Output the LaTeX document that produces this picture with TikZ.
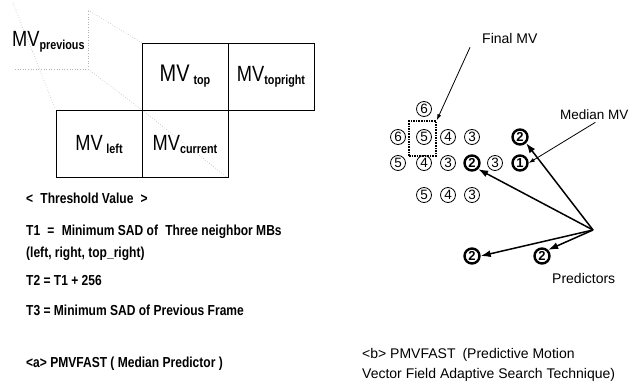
\documentclass[tikz,border=0pt]{standalone}
\usepackage{fontspec}
\setmainfont{Liberation Sans}
\newfontfamily\narrowf[FakeStretch=0.83]{Liberation Sans}
\usetikzlibrary{arrows.meta}
\tikzset{
  mbbox/.style={draw, line width=0.9pt, minimum width=86pt, minimum height=67pt, inner sep=0pt, anchor=center},
  guide/.style={gray!60, dotted, line width=0.6pt},
  cnum/.style={circle, draw, line width=0.8pt, minimum size=15pt, inner sep=0pt, font=\fontsize{13.5}{13.5}\selectfont},
  bnum/.style={circle, draw, line width=2.4pt, minimum size=15pt, inner sep=0pt, font=\bfseries\fontsize{13}{13}\selectfont},
  ptr/.style={line width=1.5pt, -{Latex[length=10pt,width=7pt]}},
  thin ptr/.style={line width=0.8pt, -{Latex[length=6pt,width=4pt]}},
  lefttxt/.style={anchor=base west, inner sep=0pt, font=\narrowf\bfseries\fontsize{14.5}{16}\selectfont},
  righttxt/.style={anchor=base west, inner sep=0pt, font=\fontsize{14}{16}\selectfont},
}
\newcommand{\subtx}[1]{\raisebox{-3pt}{\narrowf\bfseries\fontsize{13}{13}\selectfont #1}}
\begin{document}
\begin{tikzpicture}[x=1pt,y=-1pt]
\useasboundingbox (0,0) rectangle (639,385);
% perspective guides
\draw[guide] (15,69) -- (88,69) -- (88,10);
\draw[guide] (88,69) -- (142,110);
\draw[guide] (88,10) -- (142,43);
\draw[guide] (13,3) -- (55,108);
\draw[guide] (142,110) -- (228,178);
% macroblocks
\node[mbbox] (top) at (185,76.5) {\fontsize{24}{24}\selectfont\narrowf MV\,\subtx{top}};
\node[mbbox] (topright) at (271,76.5) {\fontsize{22}{22}\selectfont\narrowf MV\subtx{topright}};
\node[mbbox] (left) at (99,144) {\fontsize{22}{22}\selectfont\narrowf MV\,\subtx{left}};
\node[mbbox] (current) at (185,144) {\fontsize{22}{22}\selectfont\narrowf MV\subtx{current}};
\node[anchor=base west, inner sep=0pt] (prev) at (12,47) {\fontsize{22}{22}\selectfont\narrowf MV\subtx{previous}};
% left texts
\node[lefttxt] (th) at (26,203) {<\enspace Threshold Value\enspace >};
\node[lefttxt] (t1) at (26,235) {T1\enspace =\enspace Minimum SAD of\enspace Three neighbor MBs};
\node[lefttxt] (t1b) at (26,257) {(left, right, top\_right)};
\node[lefttxt] (t2) at (26,285) {T2 = T1 + 256};
\node[lefttxt] (t3) at (26,315) {T3 = Minimum SAD of Previous Frame};
\node[lefttxt] (capa) at (26,367) {<a> PMVFAST ( Median Predictor )};
% search pattern
\node[cnum] (r0a) at (424,109) {6};
\node[cnum] (r1a) at (398,137) {6};
\node[cnum] (r1b) at (424,137) {5};
\node[cnum] (r1c) at (448,137) {4};
\node[cnum] (r1d) at (472,137) {3};
\node[bnum] (r1e) at (520,137) {2};
\node[cnum] (r2a) at (398,163) {5};
\node[cnum] (r2b) at (424,163) {4};
\node[cnum] (r2c) at (448,163) {3};
\node[bnum] (r2d) at (472,163) {2};
\node[cnum] (r2e) at (495,163) {3};
\node[bnum] (r2f) at (520,163) {1};
\node[cnum] (r3a) at (424,195) {5};
\node[cnum] (r3b) at (448,195) {4};
\node[cnum] (r3c) at (472,195) {3};
\node[bnum] (p1) at (472,256) {2};
\node[bnum] (p2) at (542,256) {2};
\node[draw, densely dotted, line width=1.6pt, minimum width=27pt, minimum height=35pt, inner sep=0pt] (sq) at (422.5,138.5) {};
% labels
\node[righttxt] (final) at (482,44) {Final MV};
\node[righttxt, font=\fontsize{13.5}{15}\selectfont] (median) at (560,119) {Median MV};
\node[righttxt] (pred) at (552,283) {Predictors};
\node[righttxt] (capb1) at (362,358) {<b> PMVFAST\enspace(Predictive Motion};
\node[righttxt] (capb2) at (362,378) {Vector Field Adaptive Search Technique)};
% arrows
\coordinate (hub) at (593,230);
\draw[thin ptr] (final.south west) ++(-12,3) coordinate (fstart) -- (sq.north east);
\draw[thin ptr] (median.south) ++(1,3) coordinate (mstart) -- (r2f.east);
\draw[ptr] (hub) -- (r1e.south east);
\draw[ptr] (hub) -- (r2d.south east);
\draw[ptr] (hub) -- (p1.east);
\draw[ptr] (hub) -- (p2.north east);
\end{tikzpicture}
\end{document}
